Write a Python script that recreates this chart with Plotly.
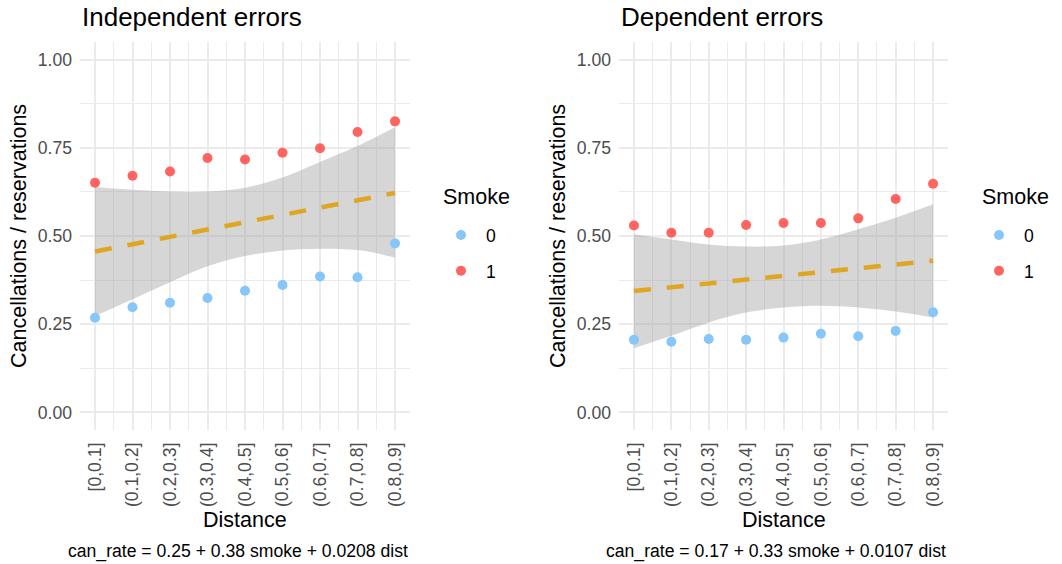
import plotly.graph_objects as go

# Distance bins (x categories) and their positions on the axis
distance_bins = ["[0,0.1]", "(0.1,0.2]", "(0.2,0.3]", "(0.3,0.4]", "(0.4,0.5]",
                 "(0.5,0.6]", "(0.6,0.7]", "(0.7,0.8]", "(0.8,0.9]"]
bin_pos = list(range(1, len(distance_bins) + 1))

# Independent errors panel
indep_smoke0 = [0.268, 0.298, 0.311, 0.324, 0.345, 0.361, 0.385, 0.383, 0.479]
indep_smoke1 = [0.651, 0.671, 0.683, 0.721, 0.717, 0.736, 0.749, 0.795, 0.825]
indep_fit = [0.456, 0.477, 0.498, 0.519, 0.539, 0.560, 0.581, 0.602, 0.622]
indep_lo = [0.273, 0.321, 0.369, 0.414, 0.443, 0.459, 0.464, 0.460, 0.439]
indep_hi = [0.639, 0.631, 0.626, 0.626, 0.637, 0.666, 0.710, 0.755, 0.808]

# Dependent errors panel
dep_smoke0 = [0.206, 0.200, 0.208, 0.206, 0.212, 0.223, 0.216, 0.231, 0.284]
dep_smoke1 = [0.530, 0.509, 0.509, 0.531, 0.537, 0.537, 0.550, 0.605, 0.648]
dep_fit = [0.344, 0.355, 0.365, 0.376, 0.387, 0.397, 0.408, 0.419, 0.430]
dep_lo = [0.182, 0.217, 0.255, 0.283, 0.297, 0.302, 0.297, 0.286, 0.269]
dep_hi = [0.505, 0.490, 0.476, 0.470, 0.473, 0.490, 0.519, 0.552, 0.590]

y_ticks = [0.0, 0.25, 0.5, 0.75, 1.0]
y_ticktext = ["0.00", "0.25", "0.50", "0.75", "1.00"]

titles = ["Independent errors", "Dependent errors"]
captions = ["can_rate = 0.25 + 0.38 smoke + 0.0208 dist",
            "can_rate = 0.17 + 0.33 smoke + 0.0107 dist"]

W, H = 1062, 564
FONT = "Liberation Sans, Arial, Helvetica, sans-serif"
COL0 = "#87C6F8"
COL1 = "#FF6461"
FIT_COL = "#DFA622"
RIBBON = "rgba(153,153,153,0.4)"
GRID = "#EBEBEB"
TICK_COL = "#4D4D4D"
SMALL = 17.6
BASE = 21.5

# Panel geometry in pixels (left, right) and shared vertical extent
panels_x = [(80, 410), (619, 948)]
panel_top, panel_bottom = 42, 430
# Legend placement in pixels: title left edge, legend box left edge
legend_title_x = [443, 982]
legend_box_x = [437, 975]

fig = go.Figure()

panels = [
    (indep_smoke0, indep_smoke1, indep_fit, indep_lo, indep_hi),
    (dep_smoke0, dep_smoke1, dep_fit, dep_lo, dep_hi),
]

for i, (s0, s1, fit, lo, hi) in enumerate(panels):
    xa = "x" if i == 0 else "x2"
    ya = "y" if i == 0 else "y2"
    leg = "legend" if i == 0 else "legend2"
    # confidence ribbon
    fig.add_trace(go.Scatter(x=bin_pos, y=lo, mode="lines", line=dict(width=0, shape="spline"),
                             showlegend=False, hoverinfo="skip", xaxis=xa, yaxis=ya))
    fig.add_trace(go.Scatter(x=bin_pos, y=hi, mode="lines", line=dict(width=0, shape="spline"),
                             fill="tonexty", fillcolor=RIBBON,
                             showlegend=False, hoverinfo="skip", xaxis=xa, yaxis=ya))
    # fitted line
    fig.add_trace(go.Scatter(x=bin_pos, y=fit, mode="lines",
                             line=dict(color=FIT_COL, width=4.5, dash="17px,16px"),
                             showlegend=False, xaxis=xa, yaxis=ya))
    # observed rates by smoke group
    fig.add_trace(go.Scatter(x=bin_pos, y=s0, mode="markers", name="0",
                             marker=dict(color=COL0, size=10),
                             legend=leg, legendgroup=f"s0_{i}", xaxis=xa, yaxis=ya))
    fig.add_trace(go.Scatter(x=bin_pos, y=s1, mode="markers", name="1",
                             marker=dict(color=COL1, size=10),
                             legend=leg, legendgroup=f"s1_{i}", xaxis=xa, yaxis=ya))

ydom = [(H - panel_bottom) / H, (H - panel_top) / H]
minor_x = [p + 0.5 for p in bin_pos[:-1]]
minor_y = [(a + b) / 2 for a, b in zip(y_ticks[:-1], y_ticks[1:])]

def xaxis_cfg(i):
    l, r = panels_x[i]
    return dict(domain=[l / W, r / W], anchor="y" if i == 0 else "y2",
                range=[0.6, len(bin_pos) + 0.4],
                tickmode="array", tickvals=bin_pos, ticktext=distance_bins,
                tickangle=-90, tickfont=dict(family=FONT, size=SMALL, color=TICK_COL),
                ticks="", ticklabelstandoff=8,
                showgrid=True, gridcolor=GRID, gridwidth=2,
                zeroline=False, showline=False,
                minor=dict(tickmode="array", tickvals=minor_x, showgrid=True,
                           gridcolor=GRID, gridwidth=1, ticks=""))

def yaxis_cfg(i):
    return dict(domain=ydom, anchor="x" if i == 0 else "x2",
                range=[-0.05, 1.05],
                tickmode="array", tickvals=y_ticks, ticktext=y_ticktext,
                tickfont=dict(family=FONT, size=SMALL, color=TICK_COL),
                ticks="", ticklabelstandoff=7,
                showgrid=True, gridcolor=GRID, gridwidth=2,
                zeroline=False, showline=False,
                minor=dict(tickmode="array", tickvals=minor_y, showgrid=True,
                           gridcolor=GRID, gridwidth=1, ticks=""))

annotations = []
for i in range(2):
    l, r = panels_x[i]
    annotations.append(dict(text=titles[i], x=l / W, y=1 - 17 / H, xref="paper", yref="paper",
                            xanchor="left", yanchor="middle", showarrow=False,
                            font=dict(family=FONT, size=26, color="black")))
    annotations.append(dict(text="Cancellations / reservations", x=(l - 61) / W,
                            y=1 - (panel_top + panel_bottom) / 2 / H,
                            xref="paper", yref="paper", xanchor="center", yanchor="middle",
                            textangle=-90, showarrow=False,
                            font=dict(family=FONT, size=BASE, color="black")))
    annotations.append(dict(text="Distance", x=(l + r) / 2 / W, y=1 - 520 / H,
                            xref="paper", yref="paper", xanchor="center", yanchor="middle",
                            showarrow=False, font=dict(family=FONT, size=BASE, color="black")))
    annotations.append(dict(text=captions[i], x=r / W, y=1 - 551 / H,
                            xref="paper", yref="paper", xanchor="right", yanchor="middle",
                            showarrow=False, font=dict(family=FONT, size=SMALL, color="black")))
    # legend title
    annotations.append(dict(text="Smoke", x=legend_title_x[i] / W, y=1 - 197 / H,
                            xref="paper", yref="paper", xanchor="left", yanchor="middle",
                            showarrow=False, xshift=-2,
                            font=dict(family=FONT, size=BASE, color="black")))

def legend_cfg(xpx):
    return dict(x=xpx / W, xanchor="left", y=1 - 217 / H, yanchor="top",
                font=dict(family=FONT, size=SMALL, color="black"),
                bgcolor="rgba(0,0,0,0)", tracegroupgap=10, itemwidth=40,
                traceorder="grouped")

fig.update_layout(
    width=W, height=H,
    margin=dict(l=0, r=0, t=0, b=0),
    plot_bgcolor="white", paper_bgcolor="white",
    xaxis=xaxis_cfg(0), yaxis=yaxis_cfg(0),
    xaxis2=xaxis_cfg(1), yaxis2=yaxis_cfg(1),
    legend=legend_cfg(legend_box_x[0] - 1), legend2=legend_cfg(legend_box_x[1] - 1),
    annotations=annotations,
    showlegend=True,
)

fig.write_html("out.html")
